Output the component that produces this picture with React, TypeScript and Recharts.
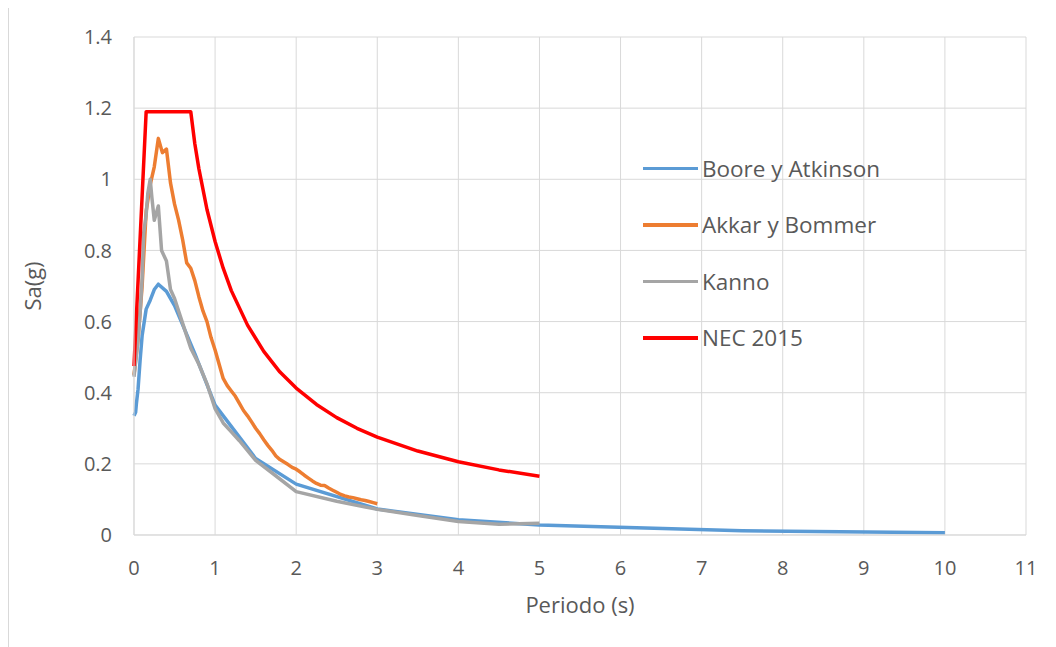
import { CartesianGrid, Legend, Line, LineChart, XAxis, YAxis } from 'recharts'

const booreT = [0, 0.01, 0.02, 0.03, 0.05, 0.075, 0.1, 0.15, 0.2, 0.25, 0.3, 0.4, 0.5, 0.75, 1, 1.5, 2, 3, 4, 5, 7.5, 10]
const booreSa = [0.335, 0.34, 0.345, 0.37, 0.41, 0.49, 0.56, 0.635, 0.66, 0.69, 0.705, 0.685, 0.645, 0.51, 0.365, 0.215, 0.143, 0.073, 0.043, 0.028, 0.012, 0.006]

const akkarT = [
  0, 0.05, 0.1, 0.15, 0.2, 0.25, 0.3, 0.35, 0.4, 0.45, 0.5, 0.55, 0.6, 0.65, 0.7, 0.75, 0.8, 0.85, 0.9, 0.95,
  1, 1.05, 1.1, 1.15, 1.2, 1.25, 1.3, 1.35, 1.4, 1.45, 1.5, 1.55, 1.6, 1.65, 1.7, 1.75, 1.8, 1.85, 1.9, 1.95,
  2, 2.05, 2.1, 2.15, 2.2, 2.25, 2.3, 2.35, 2.4, 2.45, 2.5, 2.55, 2.6, 2.65, 2.7, 2.75, 2.8, 2.85, 2.9, 2.95, 3,
]
const akkarSa = [
  0.45, 0.55, 0.7, 0.91, 0.985, 1.035, 1.115, 1.075, 1.085, 0.99, 0.93, 0.885, 0.83, 0.765, 0.75, 0.715, 0.67, 0.63, 0.6, 0.555,
  0.52, 0.48, 0.44, 0.42, 0.405, 0.39, 0.37, 0.35, 0.335, 0.318, 0.3, 0.285, 0.268, 0.252, 0.238, 0.222, 0.212, 0.205, 0.198, 0.19,
  0.185, 0.177, 0.168, 0.16, 0.152, 0.145, 0.14, 0.139, 0.132, 0.126, 0.12, 0.114, 0.11, 0.107, 0.105, 0.102, 0.099, 0.097, 0.094, 0.091, 0.088,
]

const kannoT = [0, 0.05, 0.08, 0.1, 0.12, 0.15, 0.17, 0.2, 0.22, 0.25, 0.3, 0.34, 0.4, 0.45, 0.5, 0.6, 0.7, 0.8, 0.9, 1, 1.1, 1.2, 1.3, 1.5, 1.7, 2, 2.5, 3, 3.5, 4, 4.5, 5]
const kannoSa = [0.445, 0.55, 0.64, 0.72, 0.85, 0.9, 0.96, 1.0, 0.95, 0.885, 0.925, 0.8, 0.77, 0.69, 0.665, 0.595, 0.525, 0.48, 0.425, 0.355, 0.315, 0.29, 0.265, 0.21, 0.175, 0.122, 0.095, 0.072, 0.055, 0.038, 0.03, 0.033]

const necT = [0, 0.15, 0.7, 0.75, 0.8, 0.9, 1, 1.1, 1.2, 1.4, 1.6, 1.8, 2, 2.25, 2.5, 2.75, 3, 3.5, 4, 4.5, 5]
const necSa = [0.475, 1.19, 1.19, 1.1, 1.03, 0.915, 0.825, 0.75, 0.687, 0.59, 0.516, 0.458, 0.413, 0.367, 0.33, 0.3, 0.275, 0.236, 0.206, 0.183, 0.165]

const xTicks = [0, 1, 2, 3, 4, 5, 6, 7, 8, 9, 10, 11]
const yTicks = [0, 0.2, 0.4, 0.6, 0.8, 1, 1.2, 1.4]

const toPoints = (t: number[], sa: number[]) => t.map((v, i) => ({ t: v, sa: sa[i] }))

const series = [
  { name: 'Boore y Atkinson', color: '#5B9BD5', data: toPoints(booreT, booreSa) },
  { name: 'Akkar y Bommer', color: '#ED7D31', data: toPoints(akkarT, akkarSa) },
  { name: 'Kanno', color: '#A5A5A5', data: toPoints(kannoT, kannoSa) },
  { name: 'NEC 2015', color: '#FF0000', data: toPoints(necT, necSa) },
]

const font = '"Open Sans", sans-serif'
const textColor = '#595959'

// keep the legend in series order (recharts sorts its payload by name)
function LegendBox() {
  return (
    <div style={{ fontFamily: font, fontSize: 22.5, color: textColor }}>
      {series.map(s => (
        <div key={s.name} style={{ height: 56.5, display: 'flex', alignItems: 'center' }}>
          <span style={{ width: 55, height: 3.5, background: s.color, marginRight: 4, display: 'inline-block' }} />
          <span style={{ whiteSpace: 'nowrap' }}>{s.name}</span>
        </div>
      ))}
    </div>
  )
}

export default function App() {
  return (
    <div
      style={{
        boxSizing: 'border-box',
        width: 1048,
        height: 640,
        marginTop: -1,
        borderTop: '1px solid #d9d9d9',
        borderLeft: '1px solid #d9d9d9',
        overflow: 'hidden',
      }}
    >
      <LineChart width={1039} height={620} margin={{ top: 29, right: 22, bottom: 13, left: 0 }}>
        <CartesianGrid stroke="#d9d9d9" strokeWidth={1} />
        <XAxis
          dataKey="t"
          type="number"
          domain={[0, 11]}
          ticks={xTicks}
          interval={0}
          height={80}
          tickSize={0}
          tickMargin={26}
          axisLine={{ stroke: '#d9d9d9' }}
          tickLine={false}
          tick={{ fill: textColor, fontSize: 20, fontFamily: font }}
          allowDuplicatedCategory={false}
          label={{ value: 'Periodo (s)', position: 'insideBottom', offset: 2, fill: textColor, fontSize: 22, fontFamily: font }}
        />
        <YAxis
          type="number"
          domain={[0, 1.4]}
          ticks={yTicks}
          width={125}
          tickSize={0}
          tickMargin={22}
          axisLine={{ stroke: '#d9d9d9' }}
          tickLine={false}
          tick={{ fill: textColor, fontSize: 20, fontFamily: font }}
          label={{
            value: 'Sa(g)',
            angle: -90,
            position: 'insideLeft',
            offset: 24,
            fill: textColor,
            fontSize: 22,
            fontFamily: font,
            style: { textAnchor: 'middle' },
          }}
        />
        <Legend
          layout="vertical"
          align="center"
          verticalAlign="middle"
          content={LegendBox}
          wrapperStyle={{ left: 634, top: 132, width: 320 }}
        />
        {series.map(s => (
          <Line
            key={s.name}
            name={s.name}
            data={s.data}
            dataKey="sa"
            type="linear"
            stroke={s.color}
            strokeWidth={3.5}
            dot={false}
            activeDot={false}
            isAnimationActive={false}
            strokeLinejoin="round"
          />
        ))}
      </LineChart>
    </div>
  )
}
